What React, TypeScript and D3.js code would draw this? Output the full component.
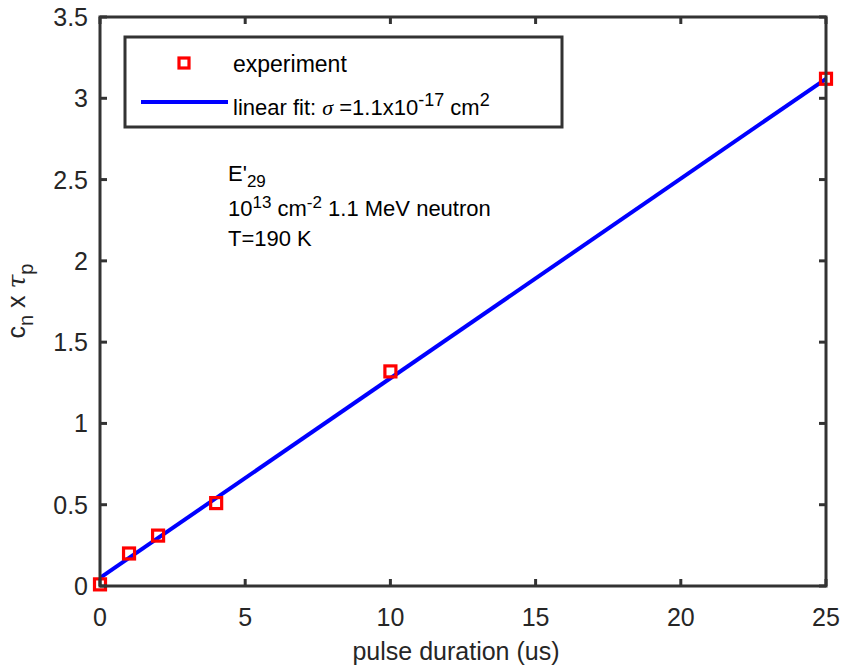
import React from "react";
import * as d3 from "d3";

const expX = [0, 1, 2, 4, 10, 25];
const expY = [0.01, 0.2, 0.31, 0.51, 1.32, 3.12];
const fitX = [0, 25];
const fitY = [0.05, 3.12];
const xTicks = [0, 5, 10, 15, 20, 25];
const yTicks = [0, 0.5, 1, 1.5, 2, 2.5, 3, 3.5];

const W = 844, H = 670;
const L = 100, R = 826, T = 17, B = 586;
const AX = "#333333";
const FONT = "'Liberation Sans', Arial, Helvetica, sans-serif";

export default function App() {
  const x = d3.scaleLinear().domain([0, 25]).range([L, R]);
  const y = d3.scaleLinear().domain([0, 3.5]).range([B, T]);
  const line = d3.line<number>().x((_, i) => x(fitX[i])).y((d) => y(d));
  const tl = 7;
  return (
    <svg width={W} height={H} style={{ position: "absolute", left: 0, top: 0, background: "#fff" }} fontFamily={FONT}>
      <rect x={0} y={0} width={W} height={H} fill="#fff" />
      {/* fit line */}
      <path d={line(fitY) || ""} fill="none" stroke="#0000ff" strokeWidth={4} />
      {/* markers */}
      {expX.map((v, i) => (
        <rect key={i} x={x(v) - 5.5} y={y(expY[i]) - 5.5} width={11} height={11} fill="none" stroke="#ff0000" strokeWidth={3.2} />
      ))}
      {/* ticks */}
      {xTicks.map((t) => (
        <g key={"x" + t}>
          <line x1={x(t)} x2={x(t)} y1={B} y2={B - tl} stroke={AX} strokeWidth={3} />
          <line x1={x(t)} x2={x(t)} y1={T} y2={T + tl} stroke={AX} strokeWidth={3} />
          <text x={x(t)} y={626} textAnchor="middle" fontSize={25} fill="#262626">{t}</text>
        </g>
      ))}
      {yTicks.map((t) => (
        <g key={"y" + t}>
          <line x1={L} x2={L + tl} y1={y(t)} y2={y(t)} stroke={AX} strokeWidth={3} />
          <line x1={R} x2={R - tl} y1={y(t)} y2={y(t)} stroke={AX} strokeWidth={3} />
          <text x={88} y={y(t) + 9} textAnchor="end" fontSize={25} fill="#262626">{t}</text>
        </g>
      ))}
      {/* box */}
      <rect x={L} y={T} width={R - L} height={B - T} fill="none" stroke={AX} strokeWidth={3} />
      {/* x label */}
      <text x={456} y={660} textAnchor="middle" fontSize={25} fill="#262626">pulse duration (us)</text>
      {/* y label */}
      <text transform={`translate(25,301) rotate(-90)`} textAnchor="middle" fontSize={25} fill="#262626">
        c<tspan dy={8} fontSize={20}>n</tspan>
        <tspan dy={-8}> x </tspan>
        <tspan fontFamily="'DejaVu Serif', 'Liberation Serif', serif" fontStyle="italic">τ</tspan>
        <tspan dy={8} fontSize={20}>p</tspan>
      </text>
      {/* legend */}
      <rect x={125} y={37} width={437} height={90} fill="#fff" stroke={AX} strokeWidth={3} />
      <rect x={184 - 5} y={63 - 5} width={10} height={10} fill="none" stroke="#ff0000" strokeWidth={3.2} />
      <text x={233} y={72} fontSize={23} fill="#000">experiment</text>
      <line x1={141} x2={228} y1={102} y2={102} stroke="#0000ff" strokeWidth={4} />
      <text x={233} y={115} fontSize={22} fill="#000">
        linear fit:{" "}
        <tspan fontFamily="'Liberation Serif', 'DejaVu Serif', serif" fontStyle="italic">σ</tspan>
        {" =1.1x10"}
        <tspan dy={-9} fontSize={18}>-17</tspan>
        <tspan dy={9}> cm</tspan>
        <tspan dy={-9} fontSize={18}>2</tspan>
      </text>
      {/* annotation */}
      <text x={228} y={181} fontSize={22} fill="#000">
        E'<tspan dy={6} fontSize={17}>29</tspan>
      </text>
      <text x={228} y={216} fontSize={22} fill="#000">
        10<tspan dy={-8} fontSize={17}>13</tspan>
        <tspan dy={8}> cm</tspan>
        <tspan dy={-8} fontSize={17}>-2</tspan>
        <tspan dy={8}> 1.1 MeV neutron</tspan>
      </text>
      <text x={228} y={246} fontSize={22} fill="#000">T=190 K</text>
    </svg>
  );
}
